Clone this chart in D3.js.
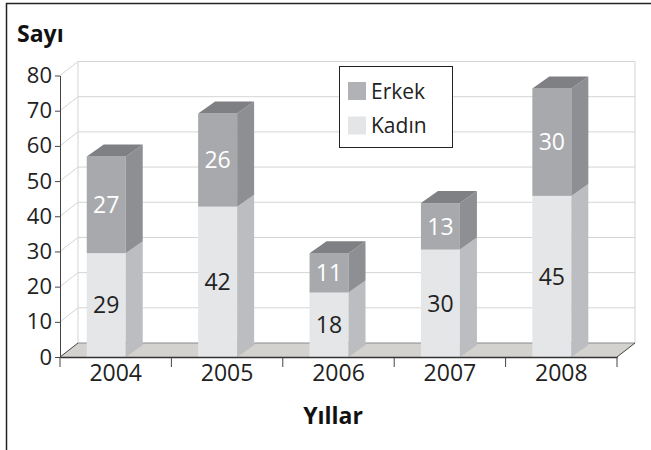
<!DOCTYPE html>
<html>
  <head>
    <meta charset="utf-8">
    <script src="https://d3js.org/d3.v7.min.js"></script>
    <title>Sayı / Yıllar</title>
    <style>
      body { margin: 0; background: #fff; }
      text { font-family: "Open Sans", sans-serif; }
    </style>
  </head>
  <body>

    <svg></svg>

    <script type="text/javascript">

      var years = ["2004", "2005", "2006", "2007", "2008"];
      var kadin = [29, 42, 18, 30, 45];
      var erkek = [27, 26, 11, 13, 30];
      var yTicks = [0, 10, 20, 30, 40, 50, 60, 70, 80];
      var seriesNames = ["Erkek", "Kadın"];

      var width = 651, height = 450;
      var left = 60, right = 617, bottom = 357;
      var wallDx = 18, wallDy = -14;   // depth of floor / walls
      var barDx = 17, barDy = -12;     // depth of each bar

      var svg = d3.select("svg")
                  .attr("width", width)
                  .attr("height", height);

      var x = d3.scaleBand().domain(years).range([left, right]);
      var y = d3.scaleLinear().domain([0, 80]).range([bottom, 75.5]);
      // bars stand in the middle of the depth, so they come out a bit taller
      var yBar = d3.scaleLinear().domain([0, 80]).range([bottom, bottom - 80 * 3.58]);

      // frame
      svg.append("path")
        .attr("d", "M6.5,450 V3.5 H651")
        .attr("fill", "none")
        .attr("stroke", "#222")
        .attr("stroke-width", 1.5);

      // walls and grid
      var grid = svg.append("g").attr("stroke", "#d4d4d4").attr("fill", "none");
      grid.selectAll("line.h")
        .data(yTicks.slice(1))
        .join("line")
        .attr("x1", left + wallDx).attr("x2", right + wallDx)
        .attr("y1", v => y(v) + wallDy).attr("y2", v => y(v) + wallDy);
      grid.selectAll("line.d")
        .data(yTicks.slice(1))
        .join("line")
        .attr("x1", left).attr("y1", v => y(v))
        .attr("x2", left + wallDx).attr("y2", v => y(v) + wallDy);
      grid.append("line")
        .attr("x1", left + wallDx).attr("x2", left + wallDx)
        .attr("y1", y(80) + wallDy).attr("y2", bottom + wallDy);
      grid.append("line")
        .attr("x1", right + wallDx).attr("x2", right + wallDx)
        .attr("y1", y(80) + wallDy).attr("y2", bottom + wallDy);

      // floor
      svg.append("polygon")
        .attr("points", [[left, bottom], [right, bottom], [right + wallDx, bottom + wallDy], [left + wallDx, bottom + wallDy]].join(" "))
        .attr("fill", "#d3d2ce");
      svg.append("line")
        .attr("x1", left + wallDx).attr("x2", right + wallDx)
        .attr("y1", bottom + wallDy).attr("y2", bottom + wallDy)
        .attr("stroke", "#8a8a8a");
      svg.append("path")
        .attr("d", `M${left},${bottom} L${left + wallDx},${bottom + wallDy} M${right},${bottom} L${right + wallDx},${bottom + wallDy}`)
        .attr("stroke", "#444")
        .attr("fill", "none");

      // bars
      var bars = years.map((yr, i) => ({year: yr, k: kadin[i], e: erkek[i]}));
      var bw = x.bandwidth();
      var fx0 = d => x(d.year) + bw * 0.24;
      var fx1 = d => x(d.year) + bw * 0.24 + bw * 0.35;

      var side = (xr, yb, yt) => [[xr, yb], [xr + barDx, yb + barDy], [xr + barDx, yt + barDy], [xr, yt]].join(" ");

      var g = svg.selectAll("g.bar").data(bars).join("g").attr("class", "bar");

      g.append("rect")
        .attr("x", fx0).attr("width", d => fx1(d) - fx0(d))
        .attr("y", d => yBar(d.k)).attr("height", d => yBar(0) - yBar(d.k))
        .attr("fill", "#e5e6e8");
      g.append("polygon")
        .attr("points", d => side(fx1(d), yBar(0), yBar(d.k)))
        .attr("fill", "#bcbdc1");
      g.append("rect")
        .attr("x", fx0).attr("width", d => fx1(d) - fx0(d))
        .attr("y", d => yBar(d.k + d.e)).attr("height", d => yBar(d.k) - yBar(d.k + d.e))
        .attr("fill", "#a8a9ac");
      g.append("polygon")
        .attr("points", d => side(fx1(d), yBar(d.k), yBar(d.k + d.e)))
        .attr("fill", "#8e8f92");
      g.append("polygon")
        .attr("points", d => {
          var t = yBar(d.k + d.e);
          return [[fx0(d), t], [fx0(d) + barDx, t + barDy], [fx1(d) + barDx, t + barDy], [fx1(d), t]].join(" ");
        })
        .attr("fill", "#7f8083");

      g.append("text")
        .attr("x", d => (fx0(d) + fx1(d)) / 2)
        .attr("y", d => yBar(d.k / 2))
        .attr("dy", "0.36em")
        .attr("text-anchor", "middle")
        .attr("font-size", 23)
        .attr("fill", "#222")
        .text(d => d.k);
      g.append("text")
        .attr("x", d => (fx0(d) + fx1(d)) / 2)
        .attr("y", d => yBar(d.k + d.e / 2))
        .attr("dy", "0.36em")
        .attr("text-anchor", "middle")
        .attr("font-size", 23)
        .attr("fill", "#fff")
        .text(d => d.e);

      // y axis
      var yAxis = svg.append("g")
        .attr("transform", `translate(${left},0)`)
        .call(d3.axisLeft(y).tickValues(yTicks).tickSize(5).tickSizeOuter(0).tickPadding(3));
      yAxis.select(".domain").attr("stroke", "#444");
      yAxis.selectAll(".tick line").attr("stroke", "#444");
      yAxis.selectAll(".tick text")
        .attr("font-size", 22)
        .attr("font-family", "Open Sans")
        .attr("fill", "#222");

      // x axis
      var xAxis = svg.append("g")
        .attr("transform", `translate(0,${bottom})`)
        .call(d3.axisBottom(x).tickSize(0).tickPadding(8));
      xAxis.select(".domain").attr("stroke", "#333").attr("stroke-width", 1.5);
      xAxis.selectAll(".tick text")
        .attr("font-size", 23)
        .attr("font-family", "Open Sans")
        .attr("fill", "#222");
      svg.append("g")
        .selectAll("line")
        .data(years.map(yr => x(yr)).concat([right]))
        .join("line")
        .attr("x1", d => d).attr("x2", d => d)
        .attr("y1", bottom).attr("y2", bottom + 10)
        .attr("stroke", "#444");

      // titles
      svg.append("text")
        .attr("x", 17).attr("y", 42)
        .attr("font-size", 23).attr("font-weight", "bold")
        .attr("fill", "#111")
        .text("Sayı");
      svg.append("text")
        .attr("x", 333).attr("y", 424)
        .attr("text-anchor", "middle")
        .attr("font-size", 23).attr("font-weight", "bold")
        .attr("fill", "#111")
        .text("Yıllar");

      // legend
      var legend = svg.append("g");
      legend.append("rect")
        .attr("x", 339.5).attr("y", 66.5)
        .attr("width", 113).attr("height", 81)
        .attr("fill", "#fff").attr("stroke", "#222");
      var legendColor = d3.scaleOrdinal().domain(seriesNames).range(["#b1b2b5", "#e4e5e7"]);
      var li = legend.selectAll("g").data(seriesNames).join("g")
        .attr("transform", (d, i) => `translate(348,${82 + i * 34.5})`);
      li.append("rect").attr("width", 18).attr("height", 18).attr("fill", d => legendColor(d));
      li.append("text")
        .attr("x", 23).attr("y", 16.5)
        .attr("font-size", 21)
        .attr("fill", "#222")
        .text(d => d);

    </script>
  </body>
</html>
